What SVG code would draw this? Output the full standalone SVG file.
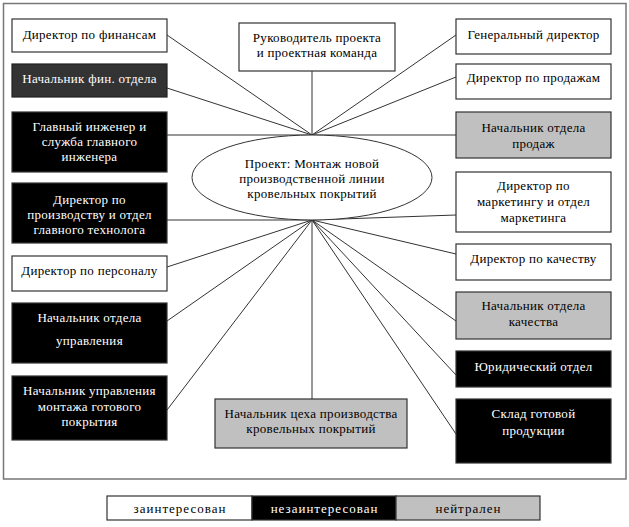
<svg xmlns="http://www.w3.org/2000/svg" width="629" height="527" viewBox="0 0 629 527">
<style>
text{font-family:"Liberation Serif","Times New Roman",serif;font-size:13px;letter-spacing:0.3px;text-anchor:middle;dominant-baseline:central;}
.w rect{fill:#fff;stroke:#333;stroke-width:1.2}
.b rect{fill:#000;stroke:#333;stroke-width:1.2}
.d rect{fill:#333;stroke:#222;stroke-width:1.2}
.g rect{fill:#c0c0c0;stroke:#333;stroke-width:1.2}
.w text,.g text{fill:#000}
.b text,.d text{fill:#fff}
#legend text{letter-spacing:1px}
#connectors line{stroke:#333;stroke-width:1}
</style>
<rect x="0" y="0" width="629" height="527" fill="#fff"/>
<rect x="3.5" y="3.5" width="622.5" height="475.5" fill="#fff" stroke="#777" stroke-width="1.5"/>
<g id="connectors">
<line x1="312" y1="135" x2="167" y2="35"/>
<line x1="312" y1="135" x2="167" y2="88"/>
<line x1="312" y1="135" x2="167" y2="135"/>
<line x1="312" y1="135" x2="312" y2="71"/>
<line x1="312" y1="135" x2="456" y2="35"/>
<line x1="312" y1="135" x2="456" y2="77"/>
<line x1="312" y1="135" x2="456" y2="135"/>
<line x1="312" y1="220" x2="167" y2="220"/>
<line x1="312" y1="220" x2="167" y2="267"/>
<line x1="312" y1="220" x2="167" y2="321"/>
<line x1="312" y1="220" x2="167" y2="410"/>
<line x1="312" y1="220" x2="312" y2="399"/>
<line x1="312" y1="220" x2="456" y2="215"/>
<line x1="312" y1="220" x2="456" y2="254"/>
<line x1="312" y1="220" x2="456" y2="321"/>
<line x1="312" y1="220" x2="456" y2="375"/>
<line x1="312" y1="220" x2="456" y2="434"/>
</g>
<g id="project" class="w">
<ellipse cx="312" cy="177.5" rx="120" ry="42.5" fill="#fff" stroke="#333" stroke-width="1"/>
<text x="312" y="163">Проект: Монтаж новой</text>
<text x="312" y="178">производственной линии</text>
<text x="312" y="193">кровельных покрытий</text>
</g>
<g id="n-rukovoditel" class="w"><rect x="239" y="23" width="156" height="48"/><text x="317" y="37">Руководитель проекта</text><text x="317" y="52">и проектная команда</text></g>
<g id="n-fin" class="w"><rect x="12" y="19" width="155" height="33"/><text x="89.5" y="34">Директор по финансам</text></g>
<g id="n-finotdel" class="d"><rect x="12" y="64" width="155" height="33"/><text x="89.5" y="78">Начальник фин. отдела</text></g>
<g id="n-inzhener" class="b"><rect x="12" y="112" width="155" height="60"/><text x="89.5" y="126">Главный инженер и</text><text x="89.5" y="141">служба главного</text><text x="89.5" y="156">инженера</text></g>
<g id="n-proizv" class="b"><rect x="12" y="183" width="155" height="60"/><text x="89.5" y="199">Директор по</text><text x="89.5" y="214">производству и отдел</text><text x="89.5" y="229">главного технолога</text></g>
<g id="n-personal" class="w"><rect x="12" y="256" width="155" height="35"/><text x="89.5" y="270">Директор по персоналу</text></g>
<g id="n-upravl" class="b"><rect x="12" y="303" width="155" height="60"/><text x="89.5" y="317">Начальник отдела</text><text x="89.5" y="340">управления</text></g>
<g id="n-montazh" class="b"><rect x="12" y="376" width="155" height="64"/><text x="89.5" y="390">Начальник управления</text><text x="89.5" y="406">монтажа готового</text><text x="89.5" y="421">покрытия</text></g>
<g id="n-gendir" class="w"><rect x="456" y="19" width="155" height="35"/><text x="533.5" y="34">Генеральный директор</text></g>
<g id="n-prodazhi" class="w"><rect x="456" y="64" width="155" height="35"/><text x="533.5" y="77">Директор по продажам</text></g>
<g id="n-otdprodazh" class="g"><rect x="456" y="112" width="155" height="46"/><text x="533.5" y="127">Начальник отдела</text><text x="533.5" y="143">продаж</text></g>
<g id="n-marketing" class="w"><rect x="456" y="172" width="155" height="60"/><text x="533.5" y="185">Директор по</text><text x="533.5" y="201">маркетингу и отдел</text><text x="533.5" y="217">маркетинга</text></g>
<g id="n-kachestvo" class="w"><rect x="456" y="244" width="155" height="36"/><text x="533.5" y="258">Директор по качеству</text></g>
<g id="n-otdkach" class="g"><rect x="456" y="292" width="155" height="47"/><text x="533.5" y="305">Начальник отдела</text><text x="533.5" y="321">качества</text></g>
<g id="n-yurid" class="b"><rect x="456" y="351" width="155" height="36"/><text x="533.5" y="366">Юридический отдел</text></g>
<g id="n-sklad" class="b"><rect x="456" y="399" width="155" height="64"/><text x="533.5" y="413">Склад готовой</text><text x="533.5" y="430">продукции</text></g>
<g id="n-tseh" class="g"><rect x="215" y="399" width="192" height="49"/><text x="311" y="413">Начальник цеха производства</text><text x="311" y="428">кровельных покрытий</text></g>
<g id="legend">
<g class="w"><rect x="107" y="496" width="145" height="24"/><text x="180" y="508">заинтересован</text></g>
<g class="b"><rect x="252" y="496" width="144" height="24"/><text x="324.5" y="508">незаинтересован</text></g>
<g class="g"><rect x="396" y="496" width="144" height="24"/><text x="468.5" y="508">нейтрален</text></g>
</g>
</svg>
